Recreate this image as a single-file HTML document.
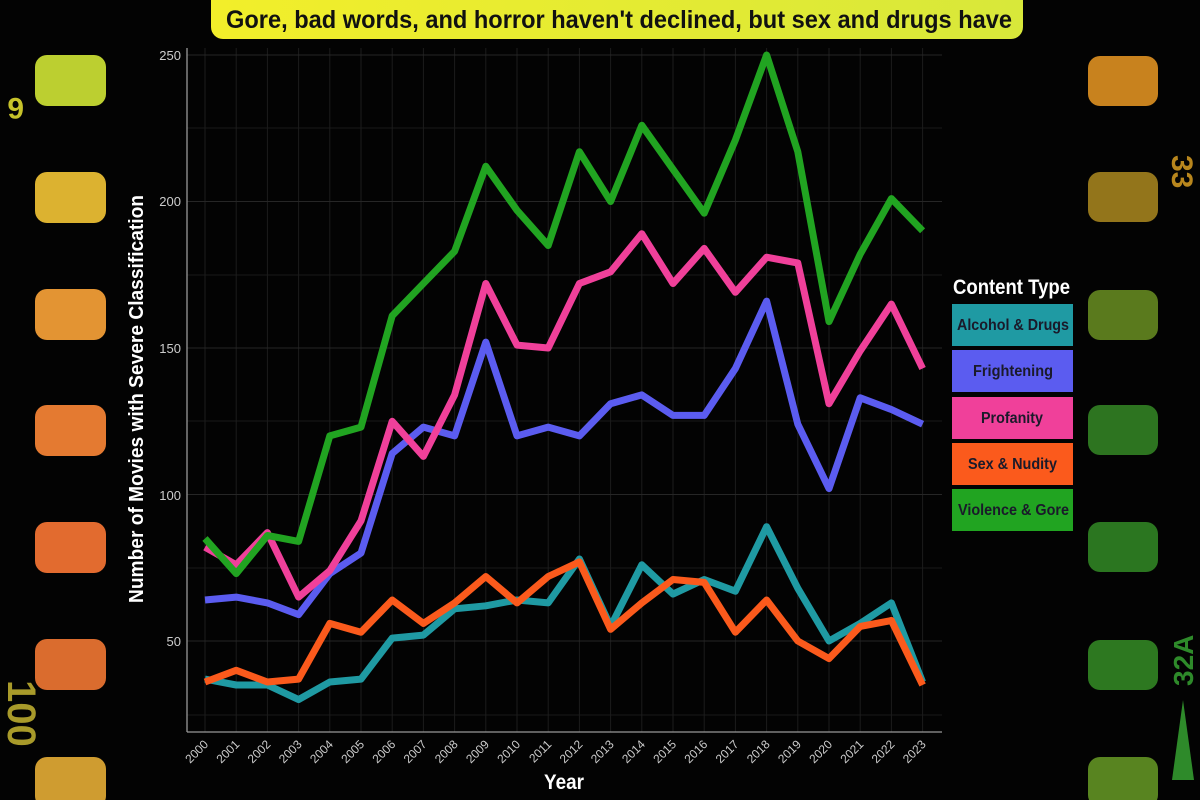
<!DOCTYPE html>
<html><head><meta charset="utf-8"><style>
html,body{margin:0;padding:0;background:#000;}
svg{display:block;}
text{font-family:"Liberation Sans",sans-serif;}
</style></head><body>
<svg width="1200" height="800" viewBox="0 0 1200 800" xmlns="http://www.w3.org/2000/svg">
<defs>
<linearGradient id="tg" x1="0" x2="1"><stop offset="0" stop-color="#f2ee2a"/><stop offset="1" stop-color="#d8e83a"/></linearGradient>
</defs>
<rect width="1200" height="800" fill="#030303"/>
<g>
<rect x="35" y="55" width="71" height="51" rx="12" fill="#bccf30"/>
<rect x="35" y="172" width="71" height="51" rx="12" fill="#dcb230"/>
<rect x="35" y="289" width="71" height="51" rx="12" fill="#e39433"/>
<rect x="35" y="405" width="71" height="51" rx="12" fill="#e47a31"/>
<rect x="35" y="522" width="71" height="51" rx="12" fill="#e26b2f"/>
<rect x="35" y="639" width="71" height="51" rx="12" fill="#da6c2e"/>
<rect x="35" y="757" width="71" height="51" rx="12" fill="#cf9c30"/>
</g>
<text x="4" y="118" font-size="30" font-weight="bold" fill="#c6c22a" transform="rotate(180 14 108)">6</text>
<text x="8" y="680" font-size="40" font-weight="bold" fill="#a89a2a" transform="rotate(90 8 680)">100</text>
<g>
<rect x="1088" y="56" width="70" height="50" rx="12" fill="#c8821e"/>
<rect x="1088" y="172" width="70" height="50" rx="12" fill="#93751b"/>
<rect x="1088" y="290" width="70" height="50" rx="12" fill="#5a7a1d"/>
<rect x="1088" y="405" width="70" height="50" rx="12" fill="#2d7420"/>
<rect x="1088" y="522" width="70" height="50" rx="12" fill="#2b7620"/>
<rect x="1088" y="640" width="70" height="50" rx="12" fill="#2d7820"/>
<rect x="1088" y="757" width="70" height="50" rx="12" fill="#588420"/>
</g>
<text x="1172" y="155" font-size="30" font-weight="bold" fill="#b8861d" transform="rotate(90 1172 155)">33</text>
<text x="1193" y="686" font-size="28" font-weight="bold" fill="#2e8a2a" transform="rotate(-90 1193 686)">32A</text>
<polygon points="1183,700 1172,780 1194,780" fill="#2e8a2a"/>
<rect x="211" y="-12" width="812" height="51" rx="12" fill="url(#tg)"/>
<text x="226" y="28" font-size="25" font-weight="bold" fill="#111" textLength="786" lengthAdjust="spacingAndGlyphs">Gore, bad words, and horror haven't declined, but sex and drugs have</text>
<g stroke="#1a1a1a" stroke-width="1">
<line x1="187" x2="942" y1="128" y2="128"/><line x1="187" x2="942" y1="275" y2="275"/><line x1="187" x2="942" y1="421" y2="421"/><line x1="187" x2="942" y1="568" y2="568"/><line x1="187" x2="942" y1="715" y2="715"/>
</g>
<g id="grid"></g>
<g id="plot"></g>
<line x1="187" y1="48" x2="187" y2="732" stroke="#999" stroke-width="1.3"/>
<line x1="187" y1="732" x2="942" y2="732" stroke="#999" stroke-width="1.3"/>
<g font-size="13" fill="#ccc" text-anchor="end">
<text x="181" y="60">250</text><text x="181" y="206">200</text><text x="181" y="353">150</text><text x="181" y="500">100</text><text x="181" y="646">50</text>
</g>
<g id="xl" font-size="12" fill="#ccc"></g>
<text x="544" y="789" font-size="21" font-weight="bold" fill="#fff" textLength="40" lengthAdjust="spacingAndGlyphs">Year</text>
<text transform="translate(143 603) rotate(-90)" font-size="20" font-weight="bold" fill="#fff" textLength="408" lengthAdjust="spacingAndGlyphs">Number of Movies with Severe Classification</text>
<text x="953" y="294" font-size="21" font-weight="bold" fill="#fff" textLength="117" lengthAdjust="spacingAndGlyphs">Content Type</text>
<g font-size="16" font-weight="bold" fill="#1a1a2a">
<rect x="952" y="304" width="121" height="42" fill="#1f9aa3"/><text x="957" y="330" textLength="112" lengthAdjust="spacingAndGlyphs">Alcohol &amp; Drugs</text>
<rect x="952" y="350" width="121" height="42" fill="#5b5cf0"/><text x="973" y="376" textLength="80" lengthAdjust="spacingAndGlyphs">Frightening</text>
<rect x="952" y="397" width="121" height="42" fill="#f0409a"/><text x="981" y="423" textLength="62" lengthAdjust="spacingAndGlyphs">Profanity</text>
<rect x="952" y="443" width="121" height="42" fill="#fb5a1c"/><text x="968" y="469" textLength="89" lengthAdjust="spacingAndGlyphs">Sex &amp; Nudity</text>
<rect x="952" y="489" width="121" height="42" fill="#21a421"/><text x="958" y="515" textLength="111" lengthAdjust="spacingAndGlyphs">Violence &amp; Gore</text>
</g>
<script>
(function(){
var ns="http://www.w3.org/2000/svg";
function X(i){return 205+31.2*i;}
function Y(v){return 55+(250-v)*2.93;}
var g=document.getElementById('grid'),p=document.getElementById('plot'),xl=document.getElementById('xl');
for(var i=0;i<24;i++){var l=document.createElementNS(ns,'line');l.setAttribute('x1',X(i));l.setAttribute('x2',X(i));l.setAttribute('y1',48);l.setAttribute('y2',732);l.setAttribute('stroke','#1c1c1c');g.appendChild(l);
var t=document.createElementNS(ns,'text');var x=X(i)+4,y=745;t.setAttribute('x',x);t.setAttribute('y',y);t.setAttribute('text-anchor','end');t.setAttribute('transform','rotate(-45 '+x+' '+y+')');t.textContent=2000+i;xl.appendChild(t);}
[250,200,150,100,50].forEach(function(v){var l=document.createElementNS(ns,'line');l.setAttribute('x1',187);l.setAttribute('x2',942);l.setAttribute('y1',Y(v));l.setAttribute('y2',Y(v));l.setAttribute('stroke','#262626');g.appendChild(l);});
var S=[
['#1f9aa3',[37,35,35,30,36,37,51,52,61,62,64,63,78,55,76,66,71,67,89,68,50,56,63,36]],
['#fb5a1c',[36,40,36,37,56,53,64,56,63,72,63,72,77,54,63,71,70,53,64,50,44,55,57,35]],
['#5b5cf0',[64,65,63,59,73,80,114,123,120,152,120,123,120,131,134,127,127,143,166,124,102,133,129,124]],
['#f0409a',[82,76,87,65,74,91,125,113,134,172,151,150,172,176,189,172,184,169,181,179,131,149,165,143]],
['#21a421',[85,73,86,84,120,123,161,172,183,212,197,185,217,200,226,211,196,221,250,217,159,182,201,190]]];
S.forEach(function(s){var pts=s[1].map(function(v,i){return X(i).toFixed(1)+','+Y(v).toFixed(1);}).join(' ');
var pl=document.createElementNS(ns,'polyline');pl.setAttribute('points',pts);pl.setAttribute('fill','none');pl.setAttribute('stroke',s[0]);pl.setAttribute('stroke-width','7');pl.setAttribute('stroke-linejoin','round');p.appendChild(pl);});
})();
</script>
</svg>
</body></html>
